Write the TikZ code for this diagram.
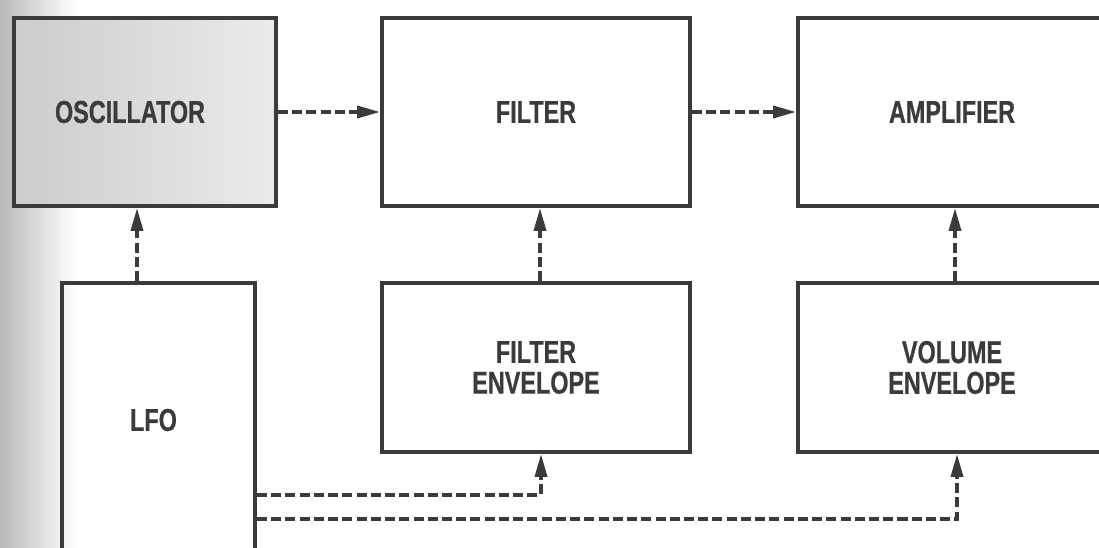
\documentclass[tikz,border=0pt]{standalone}
\usepackage{fontspec}
\setmainfont{Liberation Sans}[FakeStretch=0.74, BoldFeatures={FakeBold=0.6}]
\usetikzlibrary{arrows.meta, calc}
\definecolor{ink}{HTML}{3B3B3B}
\tikzset{
  block/.style={draw=ink, line width=2.2pt, text=ink, align=center, inner sep=0pt,
      font=\bfseries\fontsize{18}{17.5}\selectfont},
  flow/.style={ink, line width=2pt, dash pattern=on 5.7pt off 2.4pt,
      -{Triangle[length=4.6mm, width=2.4mm]}},
}

\begin{document}
\begin{tikzpicture}
  \useasboundingbox (0,0) rectangle (21.98,-10.94);
  % scan shadow on the left margin
  \shade[left color=gray!55, right color=white] (0,0) rectangle (1.5,-10.94);
  % top row
  \node[block, minimum width=5.24cm, minimum height=3.76cm,
      left color=gray!40, right color=gray!16] (osc) at (2.90,-2.24) {OSCILLATOR\hspace{0.6cm}};
  \node[block, minimum width=6.16cm, minimum height=3.76cm] (filter) at (10.72,-2.24) {FILTER};
  \node[block, minimum width=6.16cm, minimum height=3.76cm] (amp) at (19.04,-2.24) {AMPLIFIER};
  % bottom row
  \node[block, minimum width=3.86cm, minimum height=5.48cm] (lfo) at (3.17,-8.40) {LFO\hspace{0.2cm}};
  \node[block, minimum width=6.16cm, minimum height=3.38cm] (fenv) at (10.72,-7.35) {FILTER\\ENVELOPE};
  \node[block, minimum width=6.16cm, minimum height=3.38cm] (venv) at (19.04,-7.35) {VOLUME\\ENVELOPE};
  % signal path
  \draw[flow] (osc.east) -- (filter.west);
  \draw[flow] (filter.east) -- (amp.west);
  % modulation
  \draw[flow] ([xshift=-0.16cm]osc.south |- lfo.north) -- ([xshift=-0.16cm]osc.south);
  \draw[flow] ([xshift=0.08cm]fenv.north) -- ([xshift=0.08cm]filter.south);
  \draw[flow] ([xshift=0.06cm]venv.north) -- ([xshift=0.06cm]amp.south);
  \draw[flow] ([yshift=-1.50cm]lfo.east) -| ([xshift=0.1cm]fenv.south);
  \draw[flow] ([yshift=-1.98cm]lfo.east) -| ([xshift=0.1cm]venv.south);
\end{tikzpicture}
\end{document}
